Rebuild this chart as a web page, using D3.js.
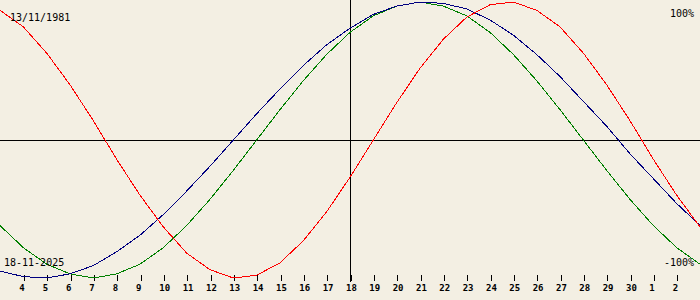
<!DOCTYPE html>
<head>
    <meta charset="utf-8">
    <title>Biorhythm</title>
    <script src="https://cdn.jsdelivr.net/npm/d3@7"></script>
    <style type="text/css">
        body { margin: 0; background-color: #F3EFE3; }
        text { font-family: "DejaVu Sans Mono", monospace; fill: black; }
        .tick text { font-size: 9px; }
    </style>
</head>
<body>
<script type="text/javascript">

//////////size of svg /////////////////
var w = 700;
var h = 300;

////////////////data/////////////////
var birthLabel = "13/11/1981";
var dateLabel = "18-11-2025";
var topLabel = "100%";
var bottomLabel = "-100%";

// day offsets from the chosen date (centre of chart)
var offsets = [-15,-14,-13,-12,-11,-10,-9,-8,-7,-6,-5,-4,-3,-2,-1,0,
               1,2,3,4,5,6,7,8,9,10,11,12,13,14,15];

// day of month written under each tick (offset -14 .. 14)
var tickDays = ["4","5","6","7","8","9","10","11","12","13","14","15","16","17","18",
                "19","20","21","22","23","24","25","26","27","28","29","30","1","2"];

// values in percent, one per offset
var physical = [94,82,63,40,14,-14,-40,-63,-82,-94,-100,-98,-89,-73,-52,-27,
                0,27,52,73,89,98,100,94,82,63,40,14,-14,-40,-63];
var emotional = [-62,-78,-90,-97,-100,-97,-90,-78,-62,-43,-22,0,22,43,62,78,
                 90,97,100,97,90,78,62,43,22,0,-22,-43,-62,-78,-90];
var intellectual = [-95,-99,-100,-97,-91,-81,-69,-54,-37,-19,0,19,37,54,69,81,
                    91,97,100,99,95,87,76,62,46,28,10,-10,-28,-46,-62];

var svg = d3.select("body").append("svg")
    .attr("width", w)
    .attr("height", h);

svg.append("rect")
    .attr("width", w)
    .attr("height", h)
    .attr("fill", "#F3EFE3");

//////////////scales////////////////
var xScale = d3.scaleLinear()
    .domain([d3.min(offsets), d3.max(offsets)])
    .range([0, w]);

var yScale = d3.scaleLinear()
    .domain([-100, 100])
    .range([278, 2]);

/////////axes
var tickOffsets = offsets.slice(1, offsets.length - 1);

var xAxis = d3.axisBottom(xScale)
    .tickValues(tickOffsets)
    .tickSize(6)
    .tickPadding(4)
    .tickFormat(function(d, i) { return tickDays[i]; });

var axisG = svg.append("g")
    .attr("transform", "translate(0.5,275)")
    .attr("shape-rendering", "crispEdges")
    .call(xAxis);

axisG.select(".domain").remove();
axisG.selectAll(".tick line").attr("stroke", "black");
axisG.selectAll(".tick text")
    .attr("text-anchor", "start")
    .attr("x", -5)
    .attr("font-weight", "bold");

// zero line
svg.append("line")
    .attr("x1", 0).attr("x2", w)
    .attr("y1", Math.floor(yScale(0)) + 0.5)
    .attr("y2", Math.floor(yScale(0)) + 0.5)
    .attr("stroke", "black")
    .attr("shape-rendering", "crispEdges");

// today line
svg.append("line")
    .attr("x1", xScale(0) + 0.5).attr("x2", xScale(0) + 0.5)
    .attr("y1", 0).attr("y2", 282)
    .attr("stroke", "black")
    .attr("shape-rendering", "crispEdges");

////////////curves
var line = d3.line()
    .x(function(d, i) { return xScale(offsets[i]); })
    .y(function(d) { return yScale(d); });

var series = [
    { values: emotional, color: "#008000" },
    { values: intellectual, color: "#000080" },
    { values: physical, color: "#FF0000" }
];

svg.selectAll(".curve")
    .data(series)
    .enter()
    .append("path")
    .attr("class", "curve")
    .attr("d", function(d) { return line(d.values); })
    .attr("fill", "none")
    .attr("stroke", function(d) { return d.color; })
    .attr("stroke-width", 1)
    .attr("shape-rendering", "crispEdges");

//////////labels
svg.append("text").attr("x", 10).attr("y", 21).attr("font-size", "10px").text(birthLabel);
svg.append("text").attr("x", 694).attr("y", 17).attr("font-size", "10px")
    .attr("text-anchor", "end").text(topLabel);
svg.append("text").attr("x", 4).attr("y", 266).attr("font-size", "10px").text(dateLabel);
svg.append("text").attr("x", 694).attr("y", 266).attr("font-size", "10px")
    .attr("text-anchor", "end").text(bottomLabel);

</script>
</body>
